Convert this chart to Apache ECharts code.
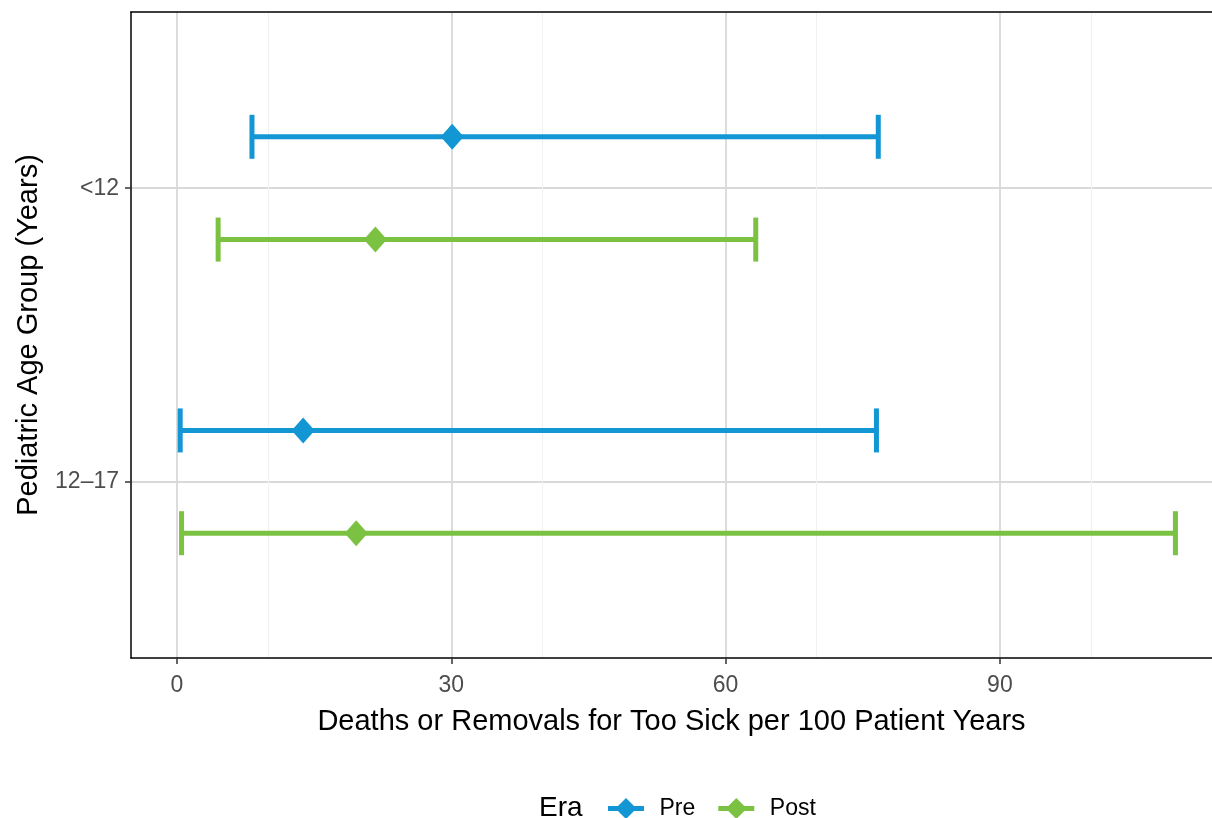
<!DOCTYPE html>
<html><head><meta charset="utf-8">
<script src="https://cdn.jsdelivr.net/npm/echarts@6/dist/echarts.min.js"></script>
<style>html,body{margin:0;padding:0;background:#fff}#c{width:1212px;height:818px}</style>
</head><body><div id="c"></div>
<script>
const categories = ['12–17', '<12'];
const catPos = [1, 2];
const eras = ['Pre', 'Post'];
const eraColors = ['#1396D4', '#7CC242'];
const eraOffset = [0.175, -0.175];
// per era, per category (12–17, <12)
const preMean = [13.8, 30.1];
const preLow = [0.35, 8.2];
const preHigh = [76.5, 76.7];
const postMean = [19.6, 21.7];
const postLow = [0.5, 4.5];
const postHigh = [109.2, 63.3];
const xTicks = [0, 30, 60, 90];

const FONT = 'Liberation Sans, Arial, sans-serif';
const means = [preMean, postMean], lows = [preLow, postLow], highs = [preHigh, postHigh];
const chart = echarts.init(document.getElementById('c'));
const series = [];
eras.forEach((era, e) => {
  const errData = categories.map((c, i) => [lows[e][i], highs[e][i], catPos[i] + eraOffset[e]]);
  series.push({
    type: 'custom', name: era, z: 2,
    renderItem: (params, api) => {
      const lo = api.coord([api.value(0), api.value(2)]);
      const hi = api.coord([api.value(1), api.value(2)]);
      const h = 22;
      const st = { stroke: eraColors[e], lineWidth: 5, fill: null };
      return { type: 'group', children: [
        { type: 'line', shape: { x1: lo[0], y1: lo[1], x2: hi[0], y2: hi[1] }, style: st },
        { type: 'line', shape: { x1: lo[0], y1: lo[1] - h, x2: lo[0], y2: lo[1] + h }, style: st },
        { type: 'line', shape: { x1: hi[0], y1: hi[1] - h, x2: hi[0], y2: hi[1] + h }, style: st }
      ]};
    },
    encode: { x: [0, 1], y: 2 },
    data: errData, silent: true
  });
  series.push({
    type: 'scatter', name: era, z: 3,
    symbol: 'diamond', symbolSize: [23, 26],
    itemStyle: { color: eraColors[e], opacity: 1 },
    data: categories.map((c, i) => [means[e][i], catPos[i] + eraOffset[e]]),
    silent: true
  });
});

const legIcon = 'path://M0,8 L10,8 L18,0 L26,8 L36,8 L36,13 L26,13 L18,21 L10,13 L0,13 Z';

chart.setOption({
  animation: false,
  color: eraColors,
  grid: { left: 131, right: 0, top: 12, bottom: 160, containLabel: false, outerBoundsMode: 'none' },
  xAxis: [{
    type: 'value', min: -5.03, max: 113.2, interval: 30,
    axisLine: { show: true, onZero: false, lineStyle: { color: '#000', width: 1.5 } },
    axisTick: { show: true, length: 6, lineStyle: { color: '#333', width: 1.5 }, customValues: xTicks },
    axisLabel: { customValues: xTicks, color: '#4d4d4d', fontSize: 23, fontFamily: FONT, margin: 16 },
    splitLine: { show: true, lineStyle: { color: '#d9d9d9', width: 1.8 } },
    minorTick: { show: false, splitNumber: 2 },
    minorSplitLine: { show: true, lineStyle: { color: '#f1f1f1', width: 1 } },
    name: 'Deaths or Removals for Too Sick per 100 Patient Years',
    nameLocation: 'middle', nameGap: 49,
    nameTextStyle: { color: '#000', fontSize: 29, fontFamily: FONT }
  }, {
    type: 'value', position: 'top', min: -5.03, max: 113.2,
    axisLine: { show: true, onZero: false, lineStyle: { color: '#000', width: 1.5 } },
    axisTick: { show: false }, axisLabel: { show: false }, splitLine: { show: false }
  }],
  yAxis: {
    type: 'value', min: 0.4, max: 2.6,
    axisLine: { show: true, onZero: false, lineStyle: { color: '#000', width: 1.5 } },
    axisTick: { show: true, length: 6, lineStyle: { color: '#333', width: 1.5 }, customValues: catPos },
    axisLabel: { customValues: catPos, formatter: v => categories[catPos.indexOf(Math.round(v))] || '',
      color: '#4d4d4d', fontSize: 23, fontFamily: FONT, margin: 12 },
    splitLine: { show: true, lineStyle: { color: '#d9d9d9', width: 1.8 } },
    name: 'Pediatric Age Group (Years)', nameLocation: 'middle', nameGap: 88, nameRotate: 90,
    nameTextStyle: { color: '#000', fontSize: 29, fontFamily: FONT }
  },
  legend: {
    top: 792, left: 603, itemWidth: 37, itemGap: 23, itemHeight: 21,
    data: eras.map((n, i) => ({ name: n, icon: legIcon, itemStyle: { color: eraColors[i] } })),
    textStyle: { fontSize: 23, color: '#000', fontFamily: FONT, padding: [0, 0, 0, 10] },
    selectedMode: false
  },
  graphic: [{
    type: 'text', x: 539, y: 808,
    style: { text: 'Era', fontSize: 28, fill: '#000', fontFamily: FONT, verticalAlign: 'middle' }
  }],
  series: series
});
</script></body></html>
